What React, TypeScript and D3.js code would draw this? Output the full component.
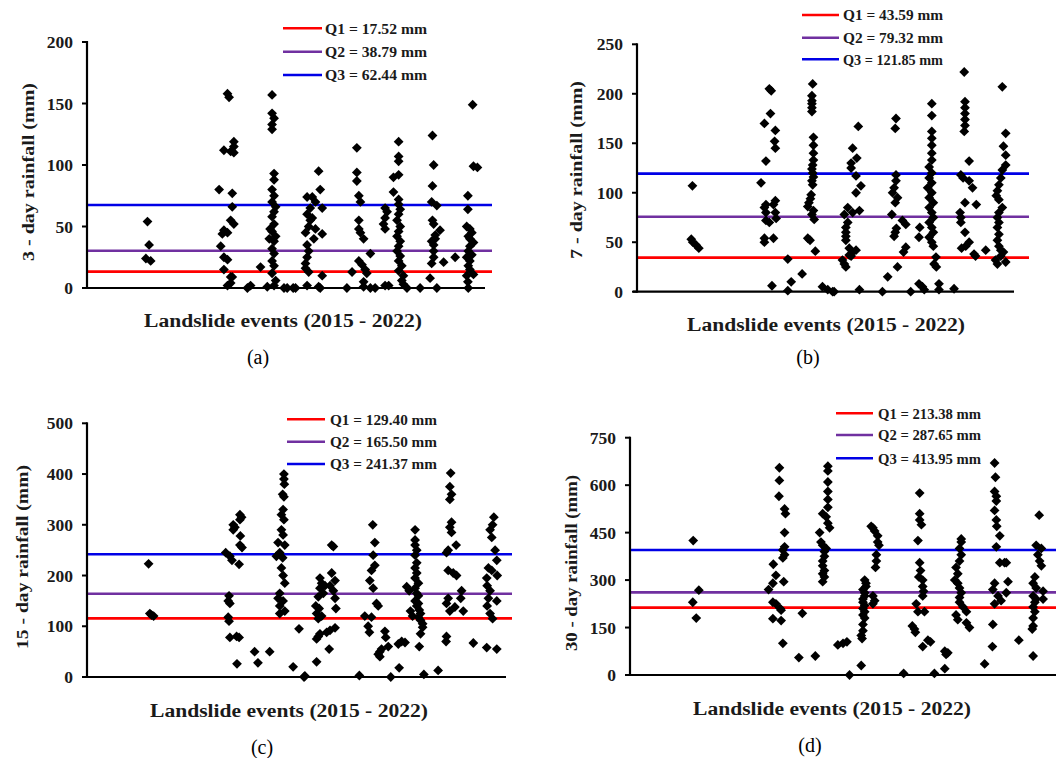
import React from "react";
import * as d3 from "d3";

// ---------- DATA ----------
// [event position (0-100 along the event axis), rainfall mm]
const rain3: [number, number][] = [
  [15.2,54],[15.6,35],[14.8,24],[16.0,22],
  [33.2,80],[35.3,158],[35.7,155],[34.4,112],[36.1,111],[36.9,119],[36.9,115],[36.9,110],[36.5,77],[36.5,66],[36.1,55],[36.9,52],[34.4,47],[35.3,45],[34.0,44],[33.6,34],[34.4,25],[35.3,23],[34.4,15],[36.1,9],[36.1,4],[36.5,9],[35.3,2],
  [40.3,0],[41.1,2],[43.6,17],[45.3,1],
  [46.5,157],[46.5,142],[47.0,138],[46.5,133],[46.5,129],[47.0,93],[47.0,88],[46.5,80],[47.0,75],[46.5,70],[47.4,66],[47.0,62],[46.5,58],[47.0,52],[46.5,46],[47.4,42],[47.0,38],[46.5,32],[47.0,28],[46.5,22],[47.0,18],[46.5,12],[47.4,6],[47.0,2],[45.8,40],[46.0,48],
  [49.5,0],[50.3,0],[51.8,0],[52.4,0],
  [58.2,95],[58.6,80],[55.3,74],[56.6,74],[57.4,70],[59.1,65],[55.3,60],[56.1,55],[57.4,48],[59.1,44],[54.9,45],[57.0,40],[55.3,35],[55.7,30],[55.3,25],[54.9,20],[54.9,16],[55.7,13],[59.1,10],[55.3,2],[58.2,1],[58.6,0],[56.1,65],[55.7,50],[56.6,57],
  [65.3,0],[66.6,13],
  [67.8,114],[67.8,94],[67.8,87],[68.3,75],[68.7,70],[68.3,55],[68.3,48],[68.7,45],[69.5,40],[68.3,22],[69.1,19],[69.9,15],[70.3,12],[69.5,5],[69.5,1],[71.2,0],[72.4,0],[71.2,28],
  [74.9,65],[75.4,62],[74.9,57],[74.5,52],[74.9,48],[74.9,2],[75.8,2],
  [78.3,119],[78.3,107],[78.3,103],[77.0,90],[78.3,92],[77.0,78],[78.3,72],[78.3,68],[78.7,64],[78.3,60],[77.9,55],[78.7,50],[78.3,46],[77.9,42],[78.7,38],[78.3,34],[77.9,30],[78.7,26],[78.3,22],[79.1,18],[78.3,14],[79.5,10],[79.1,6],[79.5,3],[80.4,0],
  [83.7,0],
  [86.8,124],[87.1,100],[86.8,83],[86.6,70],[87.9,67],[86.8,55],[87.1,52],[88.7,47],[87.5,43],[87.5,40],[86.6,38],[87.1,35],[87.1,30],[87.1,25],[89.6,21],[86.6,20],[86.2,8],[87.9,0],
  [92.5,25],
  [96.9,149],[97.1,99],[98.1,98],[95.7,75],[95.7,64],[95.4,50],[96.2,48],[96.7,45],[95.8,42],[96.2,40],[97.1,37],[96.2,34],[95.8,30],[96.7,27],[95.4,25],[96.2,22],[95.8,18],[96.2,15],[97.1,11],[95.4,10],[95.7,5],[95.8,0],
];

const rain7: [number, number][] = [
  [14.7,107],[14.4,53],[14.8,50],[15.7,47],[16.4,44],
  [32.9,110],[33.8,170],[34.2,132],[35.1,205],[35.6,203],[35.4,180],[34.2,88],[33.8,85],[34.2,80],[34.2,72],[35.1,70],[33.8,54],[33.8,50],[36.2,54],[36.7,163],[36.5,152],[36.7,145],[36.7,92],[36.2,88],[36.7,80],[36.9,74],[35.8,6],
  [40.0,33],[40.0,1],[40.9,10],[43.8,18],
  [46.6,210],[46.4,198],[46.4,193],[46.4,190],[46.4,186],[46.4,182],[46.8,156],[46.8,148],[46.8,140],[46.8,133],[46.6,128],[46.4,124],[46.6,120],[46.8,116],[46.4,112],[46.6,108],[46.2,98],[46.0,94],[45.6,90],[45.3,86],[46.8,82],[46.4,78],[47.0,73],[45.3,54],[45.9,52],[47.3,41],[49.2,5],[50.6,2],[51.9,0],[52.3,0],
  [58.7,167],[57.2,145],[58.3,135],[56.8,130],[56.8,125],[58.1,117],[59.4,107],[58.1,100],[55.9,85],[59.0,82],[57.2,80],[55.0,78],[55.9,70],[55.4,65],[55.4,60],[55.4,56],[55.4,52],[56.3,44],[58.1,42],[57.2,40],[56.3,37],[56.8,36],[54.5,32],[55.0,28],[55.4,25],[59.0,2],
  [65.1,0],[66.5,15],[69.1,25],
  [68.7,175],[68.5,165],[68.7,118],[68.7,112],[68.2,105],[67.8,100],[69.1,95],[68.5,90],[67.6,78],[70.4,72],[71.3,68],[68.8,64],[68.5,60],[68.2,56],[71.3,45],[70.7,40],
  [72.6,0],[75.0,65],[74.8,55],[74.8,8],[75.7,5],[76.2,2],
  [78.2,190],[78.2,178],[78.2,162],[78.2,155],[78.2,148],[78.2,140],[78.2,133],[77.5,126],[78.2,120],[77.5,115],[78.2,110],[77.1,105],[78.2,100],[77.5,95],[78.6,90],[77.5,85],[78.2,80],[78.6,75],[77.5,70],[78.2,65],[78.6,60],[77.5,55],[78.2,50],[78.6,46],[79.3,35],[78.8,28],[79.4,25],[80.1,8],[80.1,2],
  [84.1,3],
  [86.8,222],[87.0,192],[87.0,186],[87.0,180],[87.0,174],[87.0,168],[86.8,162],[88.1,132],[85.9,118],[86.5,115],[88.1,112],[89.0,105],[87.0,90],[90.0,88],[85.7,80],[85.9,75],[85.9,70],[87.0,60],[88.1,50],[87.2,46],[86.1,44],[89.4,38],[89.8,36],[92.5,42],
  [96.9,207],[97.8,160],[97.2,147],[97.8,138],[97.8,128],[96.9,123],[96.5,115],[96.0,108],[95.6,102],[95.3,97],[96.0,93],[96.9,85],[96.0,80],[95.6,75],[96.0,70],[95.6,65],[96.0,58],[95.6,52],[96.0,46],[96.5,42],[97.2,40],[96.5,36],[95.1,32],[95.6,28],[97.8,30],
];

const rain15: [number, number][] = [
  [14.7,223],[15.0,125],[15.4,122],[15.9,120],
  [33.1,245],[34.1,238],[34.6,230],[33.9,160],[33.7,150],[34.1,145],[33.7,118],[33.9,110],[34.1,78],[35.7,80],[36.3,78],[35.8,26],[34.9,300],[35.3,295],[34.9,290],[36.5,320],[36.9,315],[36.5,310],[36.6,278],[36.5,260],[37.0,255],[36.3,222],
  [40.0,50],[40.8,28],[43.6,50],
  [47.0,400],[47.0,390],[47.1,380],[46.7,360],[47.0,355],[46.8,330],[46.4,320],[47.0,310],[46.4,290],[46.8,280],[45.6,265],[47.2,260],[46.0,245],[45.2,238],[46.7,235],[46.4,215],[46.8,200],[47.2,185],[46.0,165],[45.6,155],[46.8,150],[46.0,140],[47.2,130],[46.0,125],
  [49.2,20],[50.6,95],[51.8,0],[52.0,2],
  [55.6,195],[56.0,185],[56.8,180],[55.6,175],[56.4,165],[55.2,158],[54.6,140],[55.4,135],[54.8,125],[56.0,120],[55.2,115],[55.6,85],[55.2,80],[54.8,75],[54.8,30],[58.4,260],[58.8,257],[58.4,205],[59.2,190],[58.0,180],[58.8,170],[59.2,155],[59.4,135],[59.2,97],[58.0,92],[57.2,88],[57.8,55],
  [65.0,3],[68.2,300],[68.7,265],[68.3,240],[68.7,220],[67.9,210],[67.5,190],[68.3,175],[69.1,145],[69.5,140],[66.3,120],[67.9,118],[67.1,100],[67.4,88],[71.1,90],[71.3,78],[70.3,55],[69.9,50],[69.5,45],[69.9,40],[71.9,60],[72.5,0],
  [74.5,18],[74.3,65],[75.1,70],[75.9,68],[78.3,290],[78.3,270],[78.3,260],[78.7,250],[78.3,240],[78.7,225],[78.3,215],[78.7,205],[78.3,195],[79.1,185],[78.3,175],[78.7,165],[79.1,160],[78.3,150],[79.1,145],[78.7,140],[79.3,132],[79.6,125],[79.1,118],[79.6,112],[80.1,105],[80.1,98],[79.6,85],[79.3,60],[80.4,5],[76.3,178],[76.9,170],[77.2,130],[77.7,120],
  [83.8,13],
  [86.8,402],[86.6,375],[87.0,360],[86.6,350],[87.0,305],[86.6,295],[87.0,285],[88.1,260],[86.2,250],[85.8,245],[86.2,210],[87.4,205],[88.2,200],[86.2,155],[85.8,145],[87.8,138],[86.6,130],[85.8,80],[85.7,70],[89.4,170],[89.2,155],[89.8,130],[92.2,67],
  [97.1,315],[96.8,300],[96.2,290],[96.6,275],[97.4,250],[97.8,230],[95.8,215],[96.6,210],[97.9,200],[95.4,195],[95.5,180],[96.2,170],[95.8,155],[97.8,150],[95.5,140],[96.2,125],[96.8,115],[95.4,58],[97.8,55],
];

const rain30: [number, number][] = [
  [14.6,425],[14.5,230],[15.3,180],[15.9,268],
  [32.0,270],[33.0,290],[33.1,350],[33.7,315],[33.0,230],[33.7,225],[34.7,210],[33.0,178],[34.9,172],[35.3,100],[34.5,655],[34.5,615],[34.4,565],[35.7,525],[35.9,510],[35.7,450],[35.7,405],[35.3,395],[35.7,380],[35.3,370],[35.5,295],[34.9,205],[39.8,195],[39.0,55],[42.8,60],
  [45.7,660],[45.7,645],[45.7,610],[45.7,580],[45.7,555],[45.7,530],[44.5,510],[45.3,500],[45.7,480],[46.1,465],[43.8,450],[44.1,420],[44.5,410],[45.3,400],[44.9,390],[44.9,375],[44.5,360],[44.5,345],[44.9,330],[44.5,320],[44.9,310],[44.5,295],
  [48.0,95],[49.2,100],[50.1,105],[50.7,0],
  [53.4,30],[54.2,300],[54.5,290],[54.5,280],[53.8,270],[54.2,260],[54.2,250],[53.8,240],[53.8,230],[54.2,220],[53.8,210],[54.2,200],[53.8,190],[54.2,180],[53.8,160],[53.8,140],[53.4,125],[53.6,115],[55.7,470],[56.1,465],[56.5,455],[57.2,440],[57.2,420],[57.5,410],[56.9,380],[56.9,360],[56.7,340],[56.1,250],[56.5,235],[56.1,225],
  [63.2,5],[66.9,575],[66.9,510],[66.9,490],[67.3,475],[66.5,425],[66.9,355],[67.1,330],[66.7,310],[67.6,300],[67.6,280],[67.8,265],[67.6,250],[66.1,225],[66.5,200],[68.0,200],[65.2,155],[65.7,145],[65.9,135],[67.6,90],[68.8,110],[69.4,105],
  [70.3,5],[72.7,75],[73.4,70],[73.0,65],[72.7,20],[76.5,430],[76.5,420],[76.1,400],[76.5,380],[76.1,360],[75.3,340],[75.7,320],[75.0,300],[75.7,290],[76.1,275],[76.5,260],[76.1,245],[76.1,230],[76.9,215],[77.7,200],[75.3,190],[75.7,175],[77.7,165],[78.4,150],
  [81.9,35],[84.2,670],[84.4,625],[84.2,580],[84.6,565],[84.6,550],[84.2,520],[84.6,490],[84.7,470],[85.4,440],[84.6,405],[85.4,355],[86.5,355],[86.9,355],[84.2,290],[83.8,270],[85.0,250],[85.7,235],[84.2,225],[83.8,160],[83.7,90],[87.3,295],[86.9,260],[89.8,110],
  [94.5,505],[93.1,60],[93.8,410],[95.0,400],[94.2,380],[94.6,360],[95.0,345],[93.5,310],[93.1,290],[93.8,275],[95.4,265],[93.1,250],[93.8,240],[93.5,230],[93.1,215],[93.5,200],[93.1,180],[93.1,155],[92.9,145],[95.4,240],
];

// quartile reference lines as drawn (mm) : red, purple, blue
const quart3 = [13.3, 30.3, 67.5];
const quart7 = [34.4, 75.8, 119.3];
const quart15 = [115.5, 164, 242];
const quart30 = [213, 261, 395];

const legend3 = ["Q1 = 17.52 mm", "Q2 = 38.79 mm", "Q3 = 62.44 mm"];
const legend7 = ["Q1 = 43.59 mm", "Q2 = 79.32 mm", "Q3 = 121.85 mm"];
const legend15 = ["Q1 = 129.40 mm", "Q2 = 165.50 mm", "Q3 = 241.37 mm"];
const legend30 = ["Q1 = 213.38 mm", "Q2 = 287.65 mm", "Q3 = 413.95 mm"];

const ticks3 = [0, 50, 100, 150, 200];
const ticks7 = [0, 50, 100, 150, 200, 250];
const ticks15 = [0, 100, 200, 300, 400, 500];
const ticks30 = [0, 150, 300, 450, 600, 750];

const quartColors = ["#ff0000", "#7030a0", "#0000e6"];
const FONT = "'Liberation Serif', 'Times New Roman', serif";

type PanelProps = {
  data: [number, number][];
  quart: number[];
  legend: string[];
  ticks: number[];
  yLabel: string;
  tag: string;
  x0: number; x1: number; yBot: number; yTop: number; qEnd: number;
  legX0: number; legX1: number; legTextX: number; legRows: number[]; legLen: number;
  yLabX: number; yLabY: number; yLabLen: number;
  titleX: number; titleY: number; tagX: number; tagY: number;
};

const diamond = d3.symbol().type(d3.symbolSquare).size(48)();

function Panel(p: PanelProps) {
  const x = d3.scaleLinear().domain([0, 100]).range([p.x0, p.x1]);
  const yMax = p.ticks[p.ticks.length - 1];
  const y = d3.scaleLinear().domain([0, yMax]).range([p.yBot, p.yTop]);
  return (
    <g>
      {p.quart.map((q, i) => (
        <line key={"q" + i} x1={p.x0} x2={p.qEnd} y1={y(q)} y2={y(q)} stroke={quartColors[i]} strokeWidth={2.6} />
      ))}
      {p.data.map((d, i) => (
        <path key={"p" + i} d={diamond as string} transform={`translate(${x(d[0])},${y(d[1])}) rotate(45)`} fill="#000" />
      ))}
      <line x1={p.x0} x2={p.x0} y1={p.yTop - 1} y2={p.yBot + 1} stroke="#000" strokeWidth={2.2} />
      <line x1={p.x0 - 4} x2={p.x1} y1={p.yBot} y2={p.yBot} stroke="#000" strokeWidth={2.2} />
      {p.ticks.map((t) => (
        <g key={"t" + t}>
          <line x1={p.x0 - 5} x2={p.x0} y1={y(t)} y2={y(t)} stroke="#000" strokeWidth={2} />
          <text x={p.x0 - 14} y={y(t)} dy="0.35em" textAnchor="end" fontFamily={FONT} fontWeight="bold" fontSize={17.5} fill="#1a1a1a">{t}</text>
        </g>
      ))}
      <text transform={`translate(${p.yLabX},${p.yLabY}) rotate(-90)`} textAnchor="middle" dy="0.35em" fontFamily={FONT} fontWeight="bold" fontSize={17} fill="#1a1a1a" textLength={p.yLabLen} lengthAdjust="spacingAndGlyphs">{p.yLabel}</text>
      <text x={p.titleX} y={p.titleY} dy="0.35em" textAnchor="middle" fontFamily={FONT} fontWeight="bold" fontSize={18} fill="#1a1a1a" textLength={278} lengthAdjust="spacingAndGlyphs">Landslide events (2015 - 2022)</text>
      <text x={p.tagX} y={p.tagY} dy="0.35em" textAnchor="middle" fontFamily={FONT} fontSize={20} fill="#000">{p.tag}</text>
      {p.legend.map((l, i) => (
        <g key={"l" + i}>
          <line x1={p.legX0} x2={p.legX1} y1={p.legRows[i]} y2={p.legRows[i]} stroke={quartColors[i]} strokeWidth={2.6} />
          <text x={p.legTextX} y={p.legRows[i]} dy="0.35em" fontFamily={FONT} fontWeight="bold" fontSize={15} fill="#1a1a1a" textLength={p.legLen + (l.length > 14 ? 7 : 0)} lengthAdjust="spacingAndGlyphs">{l}</text>
        </g>
      ))}
    </g>
  );
}

export default function App() {
  return (
    <svg width={1056} height={758} style={{ position: "absolute", left: 0, top: 0, background: "#fff" }}>
      <rect width={1056} height={758} fill="#fff" />
      <Panel data={rain3} quart={quart3} legend={legend3} ticks={ticks3} yLabel="3 - day rainfall (mm)" tag="(a)"
        x0={87} x1={485} yBot={288} yTop={42} qEnd={492}
        legX0={283} legX1={322} legTextX={325} legRows={[28.3, 51.7, 75]} legLen={102}
        yLabX={28} yLabY={172} yLabLen={178}
        titleX={283} titleY={321} tagX={258} tagY={357} />
      <Panel data={rain7} quart={quart7} legend={legend7} ticks={ticks7} yLabel="7 - day rainfall (mm)" tag="(b)"
        x0={637} x1={1014} yBot={291.7} yTop={44.3} qEnd={1029}
        legX0={802} legX1={839} legTextX={843} legRows={[15, 37.7, 59.3]} legLen={100}
        yLabX={576} yLabY={170} yLabLen={178}
        titleX={826} titleY={325} tagX={808} tagY={357} />
      <Panel data={rain15} quart={quart15} legend={legend15} ticks={ticks15} yLabel="15 - day rainfall (mm)" tag="(c)"
        x0={87} x1={506} yBot={677} yTop={423.3} qEnd={512}
        legX0={287} legX1={325} legTextX={330} legRows={[419.3, 441.7, 464]} legLen={107}
        yLabX={22} yLabY={557} yLabLen={184}
        titleX={289} titleY={711} tagX={262} tagY={747} />
      <Panel data={rain30} quart={quart30} legend={legend30} ticks={ticks30} yLabel="30 - day rainfall (mm)" tag="(d)"
        x0={630} x1={1063} yBot={675} yTop={437.7} qEnd={1063}
        legX0={836} legX1={873} legTextX={878} legRows={[413.3, 435, 458.3]} legLen={103}
        yLabX={571} yLabY={563} yLabLen={176}
        titleX={832} titleY={709} tagX={810} tagY={745} />
    </svg>
  );
}
